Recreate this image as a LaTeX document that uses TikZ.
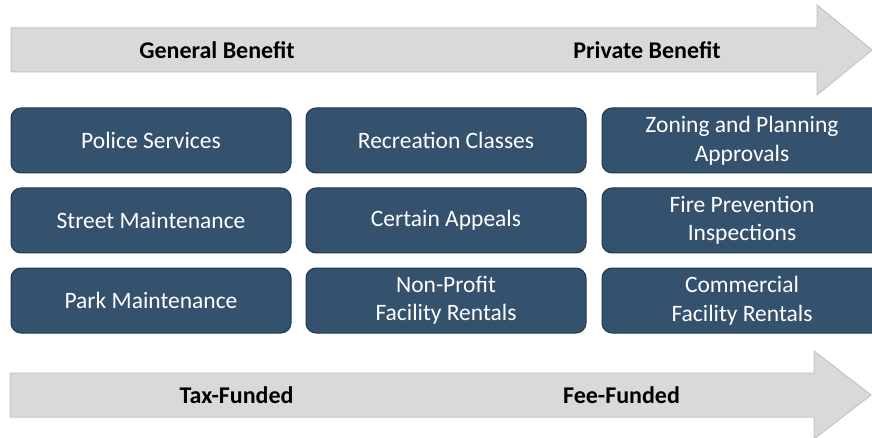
\documentclass[tikz,border=0pt]{standalone}
\usepackage{fontspec}
\setmainfont{Carlito}
\definecolor{boxfill}{HTML}{34516E}
\definecolor{boxline}{HTML}{1F3853}
\definecolor{arrfill}{HTML}{D9D9D9}
\definecolor{arrline}{HTML}{C4C4C4}
\tikzset{
  svcbox/.style={draw=boxline, line width=1pt, fill=boxfill, rounded corners=10pt,
    minimum width=280pt, minimum height=65pt, inner sep=0pt, align=center,
    text=white, font=\fontsize{23.5}{28.5}\selectfont},
  bigarrow/.style={draw=arrline, line width=1pt, fill=arrfill},
  arrlabel/.style={font=\fontsize{24}{29}\selectfont\bfseries, text=black, inner sep=0pt}
}
\begin{document}
\begin{tikzpicture}[x=1pt,y=-1pt]
\useasboundingbox (0,0) rectangle (872,438);
\clip (0,0) rectangle (872,438);
% top arrow
\draw[bigarrow] (11,28) -- (817,28) -- (817,5) -- (872,50) -- (817,95) -- (817,72) -- (11,72) -- cycle;
\node[arrlabel] (gb) at (217,50) {General Benefit};
\node[arrlabel] (pb) at (647,50) {Private Benefit};
% boxes
\node[svcbox] (b11) at (151,140.5) {Police Services};
\node[svcbox] (b12) at (446,140.5) {Recreation Classes};
\node[svcbox] (b13) at (742,140.5) {Zoning and Planning\\Approvals};
\node[svcbox] (b21) at (151,220.5) {Street Maintenance};
\node[svcbox] (b22) at (446,220.5) {Certain Appeals};
\node[svcbox] (b23) at (742,220.5) {Fire Prevention\\Inspections};
\node[svcbox] (b31) at (151,300.5) {Park Maintenance};
\node[svcbox] (b32) at (446,300.5) {Non-Profit\\Facility Rentals};
\node[svcbox] (b33) at (742,300.5) {Commercial\\Facility Rentals};
% bottom arrow
\draw[bigarrow] (10,373) -- (814,373) -- (814,351) -- (871,395) -- (814,439) -- (814,417) -- (10,417) -- cycle;
\node[arrlabel] (tf) at (236.5,395) {Tax-Funded};
\node[arrlabel] (ff) at (621.5,395) {Fee-Funded};
\end{tikzpicture}
\end{document}
